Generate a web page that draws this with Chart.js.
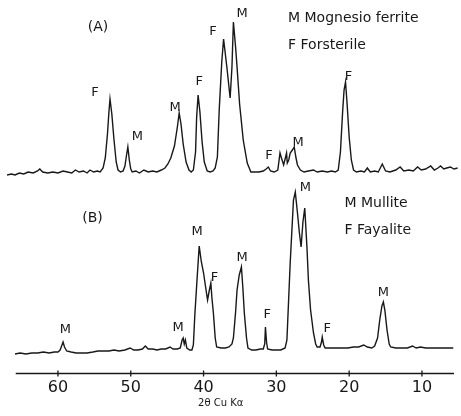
<!DOCTYPE html>
<html>
<head>
<meta charset="utf-8">
<script src="https://cdn.jsdelivr.net/npm/chart.js@4"></script>
<style>
  html, body { margin: 0; padding: 0; background: #fff; }
  #wrap { width: 461px; height: 416px; position: relative; }
</style>
</head>
<body>
<div id="wrap"><canvas id="xrd"></canvas></div>
<script>
// 2-theta (deg) vs intensity above each trace's own baseline
const TRACE_A = [
  [67.0,-3],[66.4,-2],[65.9,-3],[65.3,-1],[64.7,-2],[64.1,0],[63.4,-1],[62.8,1],[62.5,3],[62.1,0],
  [61.4,-1],[60.7,0],[60.0,-1],[59.3,1],[58.7,0],[58.1,-1],[57.6,2],[57.1,0],[56.5,1],[56.0,-1],
  [55.6,2],[55.1,0],[54.6,1],[54.2,0],[53.8,4],[53.5,14],[53.2,38],[53.0,60],[52.85,73],[52.6,58],
  [52.3,32],[52.0,10],[51.75,2],[51.4,0],[51.05,1],[50.8,6],[50.6,16],[50.4,25],[50.2,12],[50.0,3],
  [49.8,0],[49.3,1],[48.8,-1],[48.2,2],[47.6,0],[47.0,1],[46.4,0],[45.8,2],[45.3,4],[44.9,8],
  [44.5,14],[44.0,26],[43.6,45],[43.35,59],[43.1,48],[42.8,28],[42.4,10],[42.0,2],[41.7,0],[41.4,2],
  [41.1,20],[40.95,55],[40.75,77],[40.5,60],[40.2,30],[39.9,10],[39.5,1],[39.1,0],[38.7,1],[38.4,4],
  [38.1,15],[37.85,62],[37.5,110],[37.25,133],[36.8,105],[36.35,74],[36.1,105],[35.9,150],[35.6,125],[35.4,105],
  [35.05,68],[34.55,32],[34.0,9],[33.5,0],[33.0,0],[32.4,0],[31.8,1],[31.4,3],[31.1,5],[30.8,1],
  [30.3,0],[29.8,2],[29.5,19],[29.3,14],[29.0,7],[28.8,13],[28.6,19],[28.5,9],[28.3,12],[28.1,19],
  [27.8,22],[27.55,25],[27.3,14],[27.1,7],[26.7,2],[26.2,0],[25.6,1],[24.9,2],[24.4,0],[23.7,1],
  [23.0,0],[22.4,1],[21.9,0],[21.5,2],[21.2,20],[20.9,60],[20.7,82],[20.5,90],[20.3,70],[20.0,35],
  [19.7,12],[19.4,2],[19.0,0],[18.4,1],[17.9,0],[17.5,4],[17.1,0],[16.5,1],[16.0,0],[15.45,8],
  [15.0,1],[14.4,0],[13.6,2],[13.0,5],[12.5,1],[11.8,2],[11.2,1],[10.6,5],[10.1,2],[9.5,3],
  [8.8,6],[8.3,2],[7.8,4],[7.45,6],[7.0,3],[6.6,4],[6.1,5],[5.6,3],[5.1,4]
];

const TRACE_B = [
  [65.9,-4],[65.2,-3],[64.4,-4],[63.6,-3],[62.8,-3],[62.0,-2],[61.2,-3],[60.5,-2],[60.0,-2],[59.7,0],
  [59.5,4],[59.3,8],[59.1,3],[58.8,-1],[58.2,-2],[57.5,-3],[56.8,-3],[56.0,-3],[55.2,-2],[54.5,-1],
  [53.8,-1],[53.0,-1],[52.3,0],[51.6,-1],[50.8,0],[50.1,2],[49.6,0],[49.0,0],[48.4,1],[48.0,4],
  [47.6,1],[47.0,1],[46.4,0],[45.8,1],[45.2,1],[44.6,3],[44.2,1],[43.6,1],[43.2,2],[42.95,10],
  [42.8,12],[42.65,6],[42.5,10],[42.3,2],[41.9,0],[41.6,0],[41.4,5],[41.2,35],[40.9,70],[40.6,104],
  [40.3,88],[40.0,77],[39.7,62],[39.45,50],[39.2,60],[39.0,67],[38.85,52],[38.65,37],[38.4,12],[38.2,3],
  [37.6,2],[37.0,2],[36.5,3],[36.1,6],[35.9,12],[35.6,38],[35.4,60],[35.1,75],[34.8,83],[34.6,62],
  [34.4,37],[34.1,12],[33.9,2],[33.4,0],[32.8,0],[32.2,1],[31.8,1],[31.6,6],[31.5,23],[31.35,8],
  [31.2,1],[30.6,0],[30.0,0],[29.4,0],[28.8,2],[28.55,10],[28.1,87],[27.65,150],[27.4,158],[27.1,137],
  [26.85,118],[26.6,103],[26.35,128],[26.1,142],[25.8,103],[25.6,70],[25.3,40],[24.9,17],[24.6,6],[24.4,3],
  [24.0,3],[23.8,8],[23.7,13],[23.5,5],[23.3,2],[22.6,2],[21.8,2],[21.0,2],[20.2,2],[19.4,3],
  [18.7,3],[18.0,5],[17.5,3],[16.9,2],[16.5,4],[16.1,12],[15.8,30],[15.5,44],[15.3,48],[15.1,40],
  [14.8,20],[14.5,6],[14.3,3],[13.6,2],[12.8,2],[12.0,2],[11.3,4],[10.8,2],[10.2,3],[9.5,2],
  [8.6,2],[7.8,2],[7.0,2],[6.3,2],[5.7,2]
];

// peak letters: [text, 2theta, height above baseline]
const A_PEAKS = [['F',54.9,79],['M',49.1,35],['M',43.9,64],['F',40.6,90],['F',38.7,140],
                 ['M',34.7,158],['F',31.0,16],['M',27.0,29],['F',20.1,95]];
const B_PEAKS = [['M',59.0,20],['M',43.5,22],['M',40.9,118],['F',38.5,72],['M',34.7,92],
                 ['F',31.25,35],['M',26.0,162],['F',23.0,21],['M',15.3,57]];
const A_KEY = [['M Mognesio ferrite',28.4,154],['F Forsterile',28.4,127]];
const B_KEY = [['M Mullite',20.65,147],['F Fayalite',20.65,120]];
const PANELS = [['(A)',54.5,145,'A'],['(B)',55.25,132,'B']];

const TICKS = [60, 50, 40, 30, 20, 10];
const X_TITLE = '2θ Cu Kα';

// vertical stacking of the two scans
const OFFSET = { A: 202, B: 24 };

const FONT = '"DejaVu Sans", sans-serif';
const INK = '#181818';

const toPoints = (trace, off) => trace.map(p => ({ x: p[0], y: p[1] + off }));

const annotate = {
    id: 'annotate',
    afterDatasetsDraw(chart) {
        const { ctx } = chart;
        const xs = chart.scales.x, ys = chart.scales.y;
        const px = v => xs.getPixelForValue(v);
        const py = v => ys.getPixelForValue(v);
        ctx.save();
        ctx.fillStyle = INK;
        ctx.textBaseline = 'middle';

        ctx.font = '13px ' + FONT;
        ctx.textAlign = 'center';
        A_PEAKS.forEach(l => ctx.fillText(l[0], px(l[1]), py(l[2] + OFFSET.A)));
        B_PEAKS.forEach(l => ctx.fillText(l[0], px(l[1]), py(l[2] + OFFSET.B)));

        ctx.font = '14px ' + FONT;
        PANELS.forEach(l => ctx.fillText(l[0], px(l[1]), py(l[2] + OFFSET[l[3]])));

        ctx.textAlign = 'left';
        A_KEY.forEach(l => ctx.fillText(l[0], px(l[1]), py(l[2] + OFFSET.A)));
        B_KEY.forEach(l => ctx.fillText(l[0], px(l[1]), py(l[2] + OFFSET.B)));

        // axis line and ticks
        const yb = chart.chartArea.bottom - 0.5;
        ctx.strokeStyle = INK;
        ctx.lineWidth = 1.3;
        ctx.beginPath();
        ctx.moveTo(px(65.8), yb);
        ctx.lineTo(px(5.6), yb);
        TICKS.forEach(t => {
            ctx.moveTo(px(t), yb - 3);
            ctx.lineTo(px(t), yb + 3);
        });
        ctx.stroke();

        ctx.font = '10px ' + FONT;
        ctx.textAlign = 'center';
        ctx.fillText(X_TITLE, px(37.65), 403);
        ctx.restore();
    }
};

new Chart(document.getElementById('xrd'), {
    type: 'line',
    data: {
        datasets: [
            { label: 'A', data: toPoints(TRACE_A, OFFSET.A) },
            { label: 'B', data: toPoints(TRACE_B, OFFSET.B) }
        ]
    },
    options: {
        responsive: true,
        maintainAspectRatio: false,
        animation: false,
        devicePixelRatio: 1,
        layout: { padding: { left: 7, right: 3, top: 0, bottom: 0 } },
        elements: {
            line: { borderColor: INK, borderWidth: 1.4, tension: 0, fill: false },
            point: { radius: 0, hoverRadius: 0 }
        },
        plugins: { legend: { display: false }, tooltip: { enabled: false } },
        scales: {
            x: {
                type: 'linear',
                min: 5.05,
                max: 67.0,
                reverse: true,
                grid: { display: false, drawTicks: false },
                border: { display: false },
                afterBuildTicks: s => { s.ticks = TICKS.map(v => ({ value: v })); },
                afterFit: s => { s.height = 42; },
                ticks: {
                    padding: 4,
                    autoSkip: false,
                    maxRotation: 0,
                    color: INK,
                    font: { family: FONT, size: 16 }
                }
            },
            y: { display: false, min: 0, max: 374 }
        }
    },
    plugins: [annotate]
});
</script>
</body>
</html>
